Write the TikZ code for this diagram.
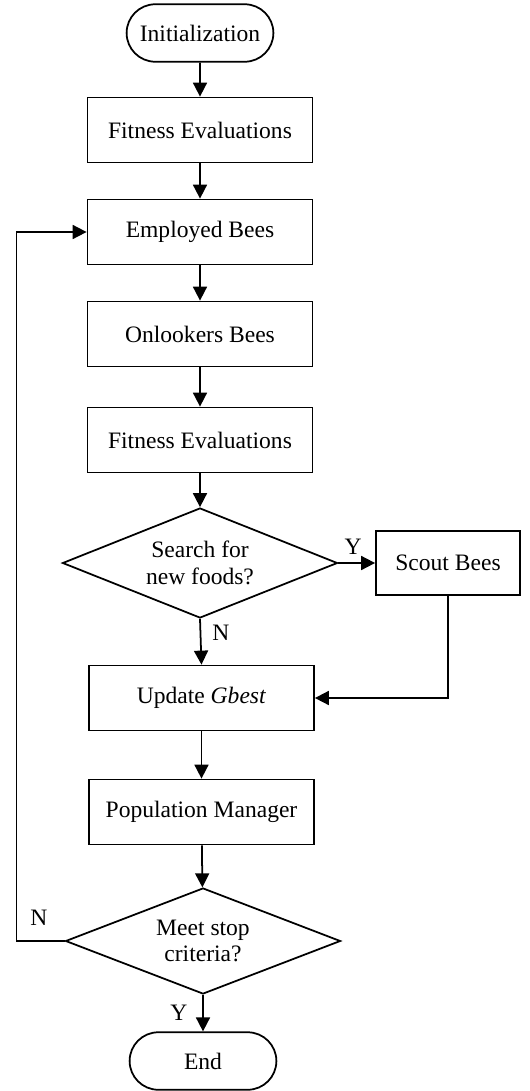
\documentclass[tikz,border=0pt]{standalone}
\usepackage{fontspec}
\setmainfont{Liberation Serif}
\usetikzlibrary{arrows.meta,shapes.geometric,shapes.misc}
\tikzset{
  process/.style={draw,line width=1pt,minimum width=4.5cm,minimum height=1.3cm,font=\fontsize{13.4}{16}\selectfont},
  terminal/.style={draw,line width=1pt,rounded rectangle,minimum width=3.17cm,minimum height=1.15cm,font=\fontsize{13.4}{16}\selectfont},
  decision/.style={draw,line width=1pt,diamond,aspect=2.6,inner sep=0pt,minimum width=5.5cm,minimum height=2.12cm,align=center,font=\fontsize{13.4}{15}\selectfont},
  flow/.style={line width=1pt,-{Triangle[length=0.28cm,width=0.28cm]}},
  tag/.style={font=\fontsize{13.4}{16}\selectfont}
}

\begin{document}
\begin{tikzpicture}
\useasboundingbox (0,0) rectangle (10.6,-21.82);
\node[terminal] (init) at (4.0,-0.66) {Initialization};
\node[process] (fit1) at (4.0,-2.6) {Fitness Evaluations};
\node[process] (employed) at (4.0,-4.64) {Employed Bees};
\node[process] (onlookers) at (4.0,-6.68) {Onlookers Bees};
\node[process] (fit2) at (4.0,-8.8) {Fitness Evaluations};
\node[decision,minimum height=2.2cm] (search) at (4.0,-11.26) {Search for\\new foods?};
\node[process,minimum width=2.88cm,minimum height=1.28cm] (scout) at (8.96,-11.26) {Scout Bees};
\node[process] (update) at (4.03,-13.96) {Update \textit{Gbest}};
\node[process] (popman) at (4.03,-16.24) {Population Manager};
\node[decision] (stop) at (4.06,-18.82) {Meet stop\\criteria?};
\node[terminal] (end) at (4.06,-21.22) {End};

\draw[flow] (init) -- (fit1);
\draw[flow] (fit1) -- (employed);
\draw[flow] (employed) -- (onlookers);
\draw[flow] (onlookers) -- (fit2);
\draw[flow] (fit2) -- (search);
\draw[flow] (search.east) -- (scout.west);
\node[tag] (yes1) at (7.06,-10.94) {Y};
\draw[flow] (search.south) -- (update.north);
\node[tag] (no1) at (4.42,-12.66) {N};
\draw[flow] (scout.south) |- (update.east);
\draw[flow] (update) -- (popman);
\draw[flow] (popman) -- (stop);
\draw[flow] (stop.south) -- (end.north);
\node[tag] (yes2) at (3.58,-20.26) {Y};
\draw[flow] (stop.west) -- ++(-0.96,0) |- (employed.west);
\node[tag] (no2) at (0.78,-18.36) {N};
\end{tikzpicture}
\end{document}
